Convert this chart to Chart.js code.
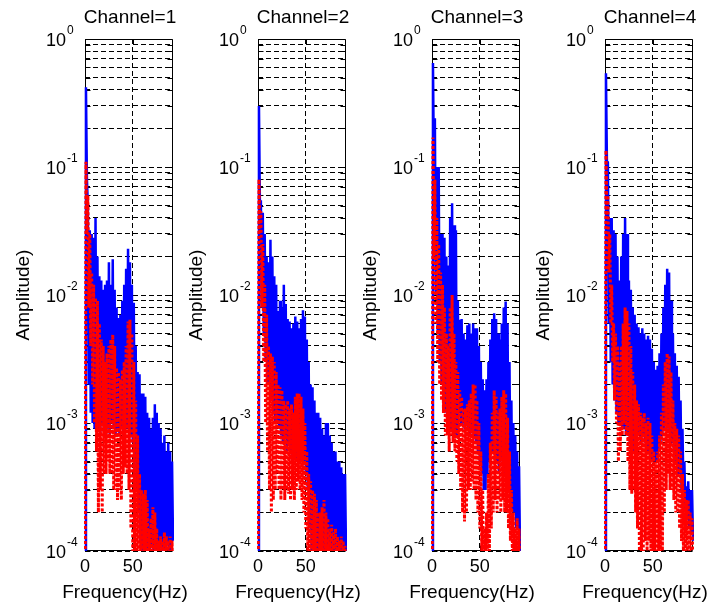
<!DOCTYPE html>
<html>
<head>
<meta charset="utf-8">
<script src="https://cdn.jsdelivr.net/npm/chart.js@4.4.1/dist/chart.umd.min.js"></script>
<style>
    html, body { margin: 0; padding: 0; background: #fff; overflow: hidden; }
    #figura { position: relative; width: 712px; height: 612px; }
    #figura canvas { position: absolute; top: 0; }
</style>
</head>
<body>
<div id="figura">
    <canvas id="canal1" width="192" height="612" style="left:0px"></canvas>
    <canvas id="canal2" width="192" height="612" style="left:173px"></canvas>
    <canvas id="canal3" width="192" height="612" style="left:347px"></canvas>
    <canvas id="canal4" width="192" height="612" style="left:520px"></canvas>
</div>
<script>
const titulos = ['Channel=1', 'Channel=2', 'Channel=3', 'Channel=4'];

const frecuenciasHz = [
    0, 1, 2, 3, 4, 5, 6, 7, 8, 9, 10, 11, 12, 13, 14, 15, 16, 17, 18, 19, 20, 21, 22, 23,
    24, 25, 26, 27, 28, 29, 30, 31, 32, 33, 34, 35, 36, 37, 38, 39, 40, 41, 42, 43, 44, 45, 46, 47,
    48, 49, 50, 51, 52, 53, 54, 55, 56, 57, 58, 59, 60, 61, 62, 63, 64, 65, 66, 67, 68, 69, 70, 71,
    72, 73, 74, 75, 76, 77, 78, 79, 80, 81, 82, 83, 84, 85, 86, 87, 88, 89, 90, 91, 92
];

const frecuenciaTicks = [0, 50];
const amplitudTicks = [
    1e-4, 2e-4, 3e-4, 4e-4, 5e-4, 6e-4, 7e-4, 8e-4, 9e-4,
    1e-3, 2e-3, 3e-3, 4e-3, 5e-3, 6e-3, 7e-3, 8e-3, 9e-3,
    1e-2, 2e-2, 3e-2, 4e-2, 5e-2, 6e-2, 7e-2, 8e-2, 9e-2,
    1e-1, 2e-1, 3e-1, 4e-1, 5e-1, 6e-1, 7e-1, 8e-1, 9e-1,
    1
];
const decadas = [1e-4, 1e-3, 1e-2, 1e-1, 1];
const exponentes = ['-4', '-3', '-2', '-1', '0'];

const azulCanal1 = [
    0.00001, 0.42, 0.08, 0.05, 0.002, 0.032, 0.0012, 0.03, 0.001, 0.028, 0.0009, 0.04,
    0.001, 0.02, 0.0009, 0.014, 0.0008, 0.013, 0.001, 0.011, 0.0009, 0.012, 0.0008, 0.013,
    0.0009, 0.018, 0.0008, 0.012, 0.001, 0.019, 0.0009, 0.011, 0.0008, 0.008, 0.0009, 0.0066,
    0.0008, 0.007, 0.0009, 0.009, 0.0008, 0.012, 0.001, 0.016, 0.0009, 0.023, 0.001, 0.018,
    0.0008, 0.012, 0.0007, 0.0087, 0.0005, 0.004, 0.0003, 0.0025, 0.0002, 0.0024, 0.00012, 0.0017,
    0.0001, 0.0017, 0.00009, 0.0016, 0.00012, 0.0012, 0.0001, 0.0011, 0.00009, 0.0009, 0.00011, 0.0011,
    0.0001, 0.0014, 0.00009, 0.0012, 0.0001, 0.001, 0.00011, 0.0009, 0.0001, 0.0007, 0.00009, 0.0008,
    0.0001, 0.0006, 0.00011, 0.0007, 0.0001, 0.0006, 0.0001, 0.0005, 0.00012
];
const rojoCanal1 = [
    0.00001, 0.11, 0.03, 0.06, 0.008, 0.03, 0.004, 0.015, 0.002, 0.012, 0.001, 0.0095,
    0.0006, 0.009, 0.0002, 0.006, 0.0003, 0.0045, 0.0002, 0.004, 0.0004, 0.003, 0.0004, 0.0035,
    0.0005, 0.004, 0.0004, 0.0045, 0.0004, 0.0049, 0.0003, 0.004, 0.0003, 0.0027, 0.00025, 0.0025,
    0.0003, 0.0022, 0.00025, 0.0026, 0.0004, 0.003, 0.00045, 0.004, 0.0004, 0.0062, 0.0003, 0.0064,
    0.00015, 0.005, 0.00008, 0.003, 0.00006, 0.0015, 0.00005, 0.0008, 0.00005, 0.0004, 0.00006, 0.0003,
    0.00005, 0.00028, 0.00007, 0.0003, 0.00005, 0.00025, 0.00006, 0.00015, 0.00005, 0.00018, 0.00007, 0.00022,
    0.00005, 0.0002, 0.00006, 0.00015, 0.00005, 0.00012, 0.00007, 0.00013, 0.00005, 0.00012, 0.00006, 0.00014,
    0.00005, 0.00013, 0.00007, 0.00012, 0.00005, 0.00013, 0.00006, 0.00012, 0.00005
];

const azulCanal2 = [
    0.00001, 0.3, 0.05, 0.055, 0.008, 0.044, 0.005, 0.03, 0.003, 0.02, 0.002, 0.018,
    0.002, 0.027, 0.0015, 0.02, 0.0012, 0.014, 0.001, 0.012, 0.001, 0.0075, 0.0009, 0.009,
    0.0008, 0.008, 0.0007, 0.012, 0.0008, 0.0085, 0.0006, 0.0065, 0.0007, 0.0062, 0.0006, 0.0055,
    0.0005, 0.006, 0.0006, 0.0068, 0.0005, 0.0062, 0.0006, 0.0055, 0.0005, 0.0065, 0.0006, 0.0076,
    0.0005, 0.0068, 0.0004, 0.0045, 0.0003, 0.003, 0.00015, 0.002, 0.0001, 0.0019, 0.00009, 0.0015,
    0.0001, 0.0012, 0.00009, 0.0012, 0.0001, 0.0011, 0.00008, 0.0009, 0.0001, 0.0008, 0.00009, 0.001,
    0.0001, 0.001, 0.00008, 0.0008, 0.0001, 0.0007, 0.00009, 0.0006, 0.0001, 0.0006, 0.00008, 0.0005,
    0.0001, 0.0005, 0.00009, 0.00045, 0.0001, 0.0004, 0.00008, 0.0004, 0.0001
];
const rojoCanal2 = [
    0.00001, 0.08, 0.03, 0.045, 0.008, 0.025, 0.003, 0.012, 0.001, 0.007, 0.0006, 0.004,
    0.0003, 0.0035, 0.0002, 0.0033, 0.00025, 0.003, 0.0003, 0.0025, 0.0004, 0.002, 0.0003, 0.0019,
    0.00025, 0.0018, 0.0003, 0.0015, 0.00025, 0.0014, 0.0003, 0.0015, 0.00028, 0.0013, 0.00025, 0.0014,
    0.0003, 0.0012, 0.00025, 0.0016, 0.0003, 0.0017, 0.00035, 0.0017, 0.0003, 0.0016, 0.00025, 0.0013,
    0.0002, 0.001, 0.00015, 0.0006, 0.0001, 0.0004, 0.00007, 0.00035, 0.00006, 0.0003, 0.00008, 0.00028,
    0.00006, 0.00025, 0.00005, 0.0002, 0.00007, 0.0002, 0.00005, 0.00022, 0.00006, 0.00025, 0.00007, 0.0002,
    0.00005, 0.00018, 0.00006, 0.00015, 0.00005, 0.00016, 0.00007, 0.00014, 0.00005, 0.00015, 0.00006, 0.00013,
    0.00005, 0.00012, 0.00006, 0.00013, 0.00005, 0.00012, 0.00006, 0.00011, 0.00005
];

const azulCanal3 = [
    0.00001, 0.65, 0.1, 0.24, 0.01, 0.1, 0.005, 0.1, 0.003, 0.03, 0.002, 0.03,
    0.0015, 0.028, 0.0012, 0.02, 0.001, 0.017, 0.001, 0.04, 0.0009, 0.052, 0.0009, 0.035,
    0.0008, 0.032, 0.0008, 0.009, 0.0012, 0.0064, 0.001, 0.0065, 0.001, 0.005, 0.0009, 0.0045,
    0.001, 0.0058, 0.0009, 0.006, 0.0008, 0.005, 0.0009, 0.006, 0.0008, 0.0055, 0.0007, 0.0055,
    0.0006, 0.004, 0.0005, 0.003, 0.0004, 0.0022, 0.0003, 0.0018, 0.0003, 0.0022, 0.0004, 0.003,
    0.0005, 0.0045, 0.0006, 0.0065, 0.0006, 0.0072, 0.0005, 0.0065, 0.0005, 0.005, 0.0004, 0.0045,
    0.0005, 0.006, 0.0005, 0.008, 0.0004, 0.0089, 0.0004, 0.006, 0.0003, 0.003, 0.0003, 0.0015,
    0.0002, 0.001, 0.0002, 0.0008, 0.00015, 0.0006, 0.00015, 0.00046, 0.0001
];
const rojoCanal3 = [
    0.00001, 0.17, 0.02, 0.08, 0.006, 0.04, 0.003, 0.025, 0.002, 0.015, 0.0015, 0.012,
    0.0012, 0.008, 0.0008, 0.005, 0.0008, 0.004, 0.0006, 0.008, 0.0008, 0.01, 0.0007, 0.005,
    0.0006, 0.003, 0.0005, 0.0025, 0.0004, 0.0018, 0.0003, 0.0016, 0.0002, 0.0013, 0.00017, 0.0013,
    0.0002, 0.0014, 0.0003, 0.0015, 0.0003, 0.0017, 0.00035, 0.002, 0.0003, 0.002, 0.00025, 0.0015,
    0.0002, 0.001, 0.00015, 0.0006, 0.0001, 0.0003, 0.00005, 0.00015, 0.00004, 0.0002, 0.00006, 0.0004,
    0.0001, 0.0007, 0.00015, 0.0012, 0.0002, 0.0018, 0.00025, 0.0016, 0.0002, 0.0012, 0.00025, 0.0013,
    0.0002, 0.0016, 0.00025, 0.0018, 0.0002, 0.0017, 0.0002, 0.0011, 0.00015, 0.0006, 0.00012, 0.0003,
    0.0001, 0.0002, 0.00006, 0.00015, 0.00005, 0.00018, 0.00006, 0.00015, 0.00005
];

const azulCanal4 = [
    0.00001, 0.54, 0.11, 0.11, 0.006, 0.04, 0.003, 0.04, 0.002, 0.032, 0.0015, 0.03,
    0.0012, 0.02, 0.001, 0.013, 0.001, 0.02, 0.0009, 0.03, 0.0009, 0.04, 0.0008, 0.03,
    0.0008, 0.013, 0.0007, 0.011, 0.0007, 0.008, 0.0006, 0.007, 0.0007, 0.006, 0.0008, 0.0056,
    0.0008, 0.005, 0.0007, 0.0055, 0.0008, 0.005, 0.0007, 0.0045, 0.0006, 0.0048, 0.0006, 0.0045,
    0.0005, 0.0038, 0.0005, 0.003, 0.0005, 0.0026, 0.0005, 0.0028, 0.0006, 0.0035, 0.0007, 0.005,
    0.0008, 0.008, 0.0009, 0.012, 0.001, 0.016, 0.0009, 0.015, 0.0008, 0.009, 0.0007, 0.005,
    0.0006, 0.0035, 0.0005, 0.0028, 0.0004, 0.0023, 0.0004, 0.0015, 0.0003, 0.0009, 0.0003, 0.0005,
    0.0002, 0.00032, 0.00018, 0.00035, 0.00015, 0.0003, 0.00014, 0.0003, 0.00012
];
const rojoCanal4 = [
    0.00001, 0.135, 0.04, 0.06, 0.015, 0.03, 0.006, 0.012, 0.003, 0.006, 0.0015, 0.005,
    0.001, 0.004, 0.0005, 0.003, 0.0006, 0.004, 0.0008, 0.006, 0.001, 0.008, 0.0008, 0.0075,
    0.0005, 0.006, 0.0003, 0.004, 0.00028, 0.0025, 0.0003, 0.002, 0.0002, 0.0015, 0.00015, 0.0014,
    0.0001, 0.0012, 0.00007, 0.0011, 0.0001, 0.0012, 0.00012, 0.001, 0.0001, 0.0011, 0.00012, 0.001,
    0.0001, 0.0008, 0.00009, 0.0006, 0.00008, 0.0005, 0.00008, 0.0006, 0.00007, 0.0008, 0.00006, 0.0012,
    0.0001, 0.002, 0.0002, 0.003, 0.0003, 0.0035, 0.0004, 0.0033, 0.0003, 0.0025, 0.0003, 0.0015,
    0.00025, 0.001, 0.0002, 0.0009, 0.0002, 0.0008, 0.00015, 0.0006, 0.00012, 0.0004, 0.0001, 0.0003,
    0.0001, 0.00025, 0.00008, 0.00025, 0.00006, 0.0002, 0.00008, 0.00018, 0.00006
];

const FUENTE = '"Liberation Sans", Arial, sans-serif';

// caja, marcas interiores y textos al estilo de un subplot de MATLAB
const marcoMatlab = {
    id: 'marcoMatlab',
    beforeDatasetsDraw(chart) {
        const { ctx, chartArea: a, scales } = chart;
        const L = Math.round(a.left) + 0.5;
        const R = Math.round(a.right) - 0.5;
        const T = Math.round(a.top) + 0.5;
        const B = Math.round(a.bottom) - 0.5;
        ctx.save();
        ctx.strokeStyle = '#000';
        ctx.lineWidth = 1;
        ctx.setLineDash([]);
        ctx.beginPath();
        ctx.rect(L, T, R - L, B - T);
        amplitudTicks.forEach(v => {
            const y = Math.round(scales.y.getPixelForValue(v)) + 0.5;
            ctx.moveTo(L, y); ctx.lineTo(L + 5, y);
            ctx.moveTo(R, y); ctx.lineTo(R - 5, y);
        });
        frecuenciaTicks.forEach(v => {
            const x = Math.round(scales.x.getPixelForValue(v)) + 0.5;
            ctx.moveTo(x, T); ctx.lineTo(x, T + 5);
            ctx.moveTo(x, B); ctx.lineTo(x, B - 5);
        });
        ctx.stroke();
        ctx.restore();
    },
    afterDraw(chart, args, opts) {
        const { ctx, chartArea: a, scales } = chart;
        ctx.save();
        ctx.fillStyle = '#000';
        ctx.textBaseline = 'alphabetic';

        ctx.font = '19px ' + FUENTE;
        ctx.textAlign = 'center';
        ctx.fillText(opts.titulo, (a.left + a.right) / 2 + 1, 23);

        decadas.forEach((v, i) => {
            const y = scales.y.getPixelForValue(v);
            ctx.font = '18px ' + FUENTE;
            ctx.textAlign = 'right';
            ctx.fillText('10', a.left - 19, y + 7);
            ctx.font = '12px ' + FUENTE;
            ctx.textAlign = 'left';
            ctx.fillText(exponentes[i], a.left - 18, y - 5);
        });

        ctx.font = '18px ' + FUENTE;
        ctx.textAlign = 'center';
        frecuenciaTicks.forEach(v => {
            ctx.fillText(String(v), scales.x.getPixelForValue(v), 572);
        });
        ctx.font = '19px ' + FUENTE;
        ctx.fillText('Frequency(Hz)', a.left + 40, 598);

        ctx.translate(a.left - 61, (a.top + a.bottom) / 2);
        ctx.rotate(-Math.PI / 2);
        ctx.textBaseline = 'middle';
        ctx.fillText('Amplitude)', 0, 0);
        ctx.restore();
    }
};

const crearCanal = (idCanvas, titulo, azul, rojo) => {
    const ctx = document.getElementById(idCanvas).getContext('2d');
    new Chart(ctx, {
        type: 'line',
        data: {
            labels: frecuenciasHz,
            datasets: [
                {
                    label: 'rojo',
                    data: rojo,
                    borderColor: '#ff0000',
                    borderWidth: 3,
                    borderDash: [3, 2],
                    borderJoinStyle: 'bevel',
                    order: 0,
                    clip: { left: 1, right: 1, top: 0, bottom: 0 }
                },
                {
                    label: 'azul',
                    data: azul,
                    borderColor: '#0000ff',
                    borderWidth: 2.5,
                    borderJoinStyle: 'bevel',
                    order: 1,
                    clip: { left: 1, right: 1, top: 0, bottom: 0 }
                }
            ]
        },
        options: {
            responsive: false,
            animation: false,
            devicePixelRatio: 1,
            layout: { autoPadding: false, padding: { left: 85, top: 39, right: 19, bottom: 61 } },
            elements: { point: { radius: 0 }, line: { tension: 0 } },
            plugins: {
                legend: { display: false },
                tooltip: { enabled: false },
                marcoMatlab: { titulo }
            },
            scales: {
                x: {
                    type: 'linear',
                    min: 0,
                    max: 92,
                    afterBuildTicks: (s) => { s.ticks = frecuenciaTicks.map(v => ({ value: v })); },
                    ticks: { display: false },
                    grid: { color: '#000', lineWidth: 1, drawTicks: false },
                    border: { display: false, dash: [5, 3] }
                },
                y: {
                    type: 'logarithmic',
                    min: 1e-4,
                    max: 1,
                    afterBuildTicks: (s) => { s.ticks = amplitudTicks.map(v => ({ value: v })); },
                    ticks: { display: false },
                    grid: { color: '#000', lineWidth: 1, drawTicks: false },
                    border: { display: false, dash: [5, 3] }
                }
            }
        },
        plugins: [marcoMatlab]
    });
};

crearCanal('canal1', titulos[0], azulCanal1, rojoCanal1);
crearCanal('canal2', titulos[1], azulCanal2, rojoCanal2);
crearCanal('canal3', titulos[2], azulCanal3, rojoCanal3);
crearCanal('canal4', titulos[3], azulCanal4, rojoCanal4);
</script>
</body>
</html>
